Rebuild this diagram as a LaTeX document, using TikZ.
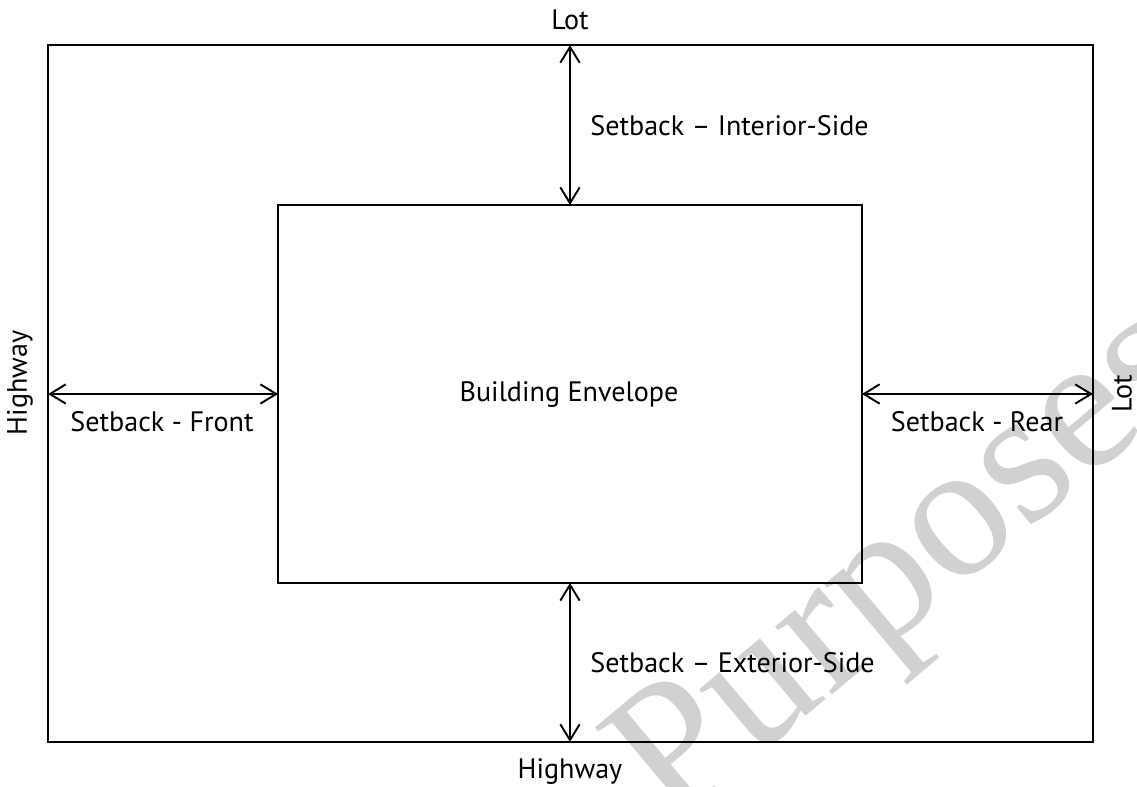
\documentclass[tikz,border=0pt]{standalone}
\usepackage{fontspec}
\setmainfont{PT Sans}
\newfontfamily\wmfont{Liberation Serif}
\usetikzlibrary{arrows.meta}
\tikzset{
  dim/.style={{Straight Barb[length=9pt,width=11pt]}-{Straight Barb[length=9pt,width=11pt]}, line width=1.1pt},
  lbl/.style={font=\fontsize{16}{19}\selectfont, inner sep=0pt},
  box/.style={draw, line width=1.1pt, inner sep=0pt, outer sep=0pt}
}
\begin{document}
\begin{tikzpicture}[x=0.02cm,y=-0.02cm]
\useasboundingbox (0,0) rectangle (1137,787);
\begin{scope}
  \clip (0,0) rectangle (1137,787);
  \node[rotate=40, anchor=base, inner sep=0pt, text=black!18,
        font=\wmfont\fontsize{110}{112}\selectfont] (wm) at (940,604) {Purposes};
\end{scope}
\node[box, minimum width=20.9cm, minimum height=13.94cm] (lot) at (570.5,393.5) {};
\node[box, minimum width=11.68cm, minimum height=7.56cm] (bldg) at (570,394) {};
\node[lbl, anchor=base] (env) at (569,401) {Building Envelope};
\draw[dim] (bldg.north) -- (lot.north -| bldg.north);
\draw[dim] (bldg.south) -- (lot.south -| bldg.south);
\draw[dim] (lot.west |- bldg.west) -- (bldg.west);
\draw[dim] (bldg.east) -- (lot.east |- bldg.east);
\node[lbl] (lotN) at (570,20) {Lot};
\node[lbl, rotate=90] (lotE) at (1122,394) {Lot};
\node[lbl, rotate=90] (hwyW) at (20,383) {Highway};
\node[lbl, anchor=base] (hwyS) at (570,778) {Highway};
\node[lbl, anchor=west] (sbInt) at (590,126) {Setback -- Interior-Side};
\node[lbl, anchor=west] (sbExt) at (590,663) {Setback -- Exterior-Side};
\node[lbl, anchor=base] (sbFront) at (162,432) {Setback - Front};
\node[lbl, anchor=base] (sbRear) at (977,432) {Setback - Rear};
\end{tikzpicture}
\end{document}
